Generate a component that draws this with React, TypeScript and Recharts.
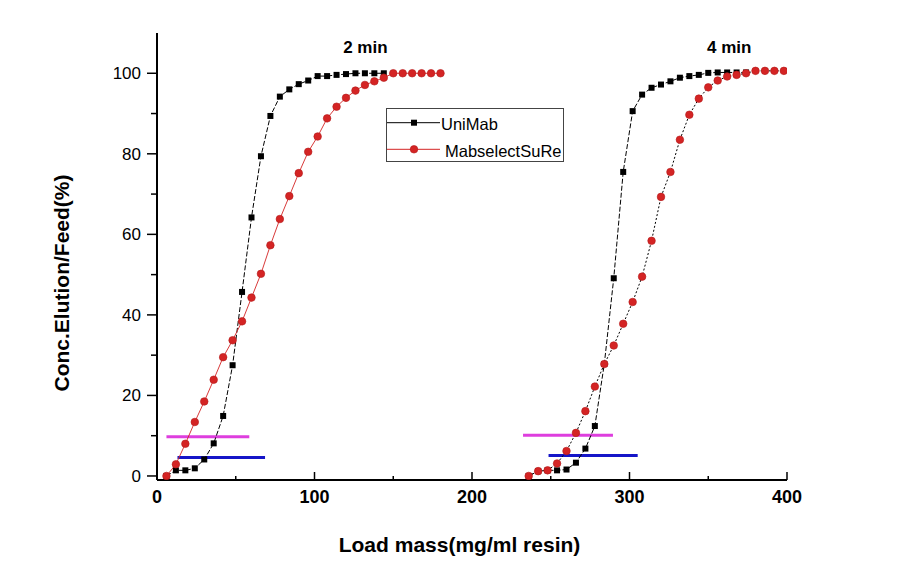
import { Line, LineChart, ReferenceDot, XAxis, YAxis } from "recharts";

// breakthrough curves, 2 min residence time
const uniMab2Load = [6, 12, 18, 24, 30, 36, 42, 48, 54, 60, 66, 72, 78, 84, 90, 96, 102, 108, 114, 120, 126, 132, 138, 144];
const uniMab2Conc = [0, 1.4, 1.4, 1.9, 4.1, 8.1, 14.9, 27.5, 45.7, 64.2, 79.4, 89.4, 94.2, 96.0, 97.3, 98.2, 99.3, 99.3, 99.6, 99.8, 100, 100, 100, 100];

const mabSelect2Load = [6, 12, 18, 24, 30, 36, 42, 48, 54, 60, 66, 72, 78, 84, 90, 96, 102, 108, 114, 120, 126, 132, 138, 144, 150, 156, 162, 168, 174, 180];
const mabSelect2Conc = [0, 2.9, 8.0, 13.4, 18.5, 23.9, 29.5, 33.7, 38.4, 44.3, 50.2, 57.3, 63.8, 69.5, 75.2, 80.5, 84.3, 88.8, 91.7, 93.9, 95.7, 97.1, 98.0, 98.9, 100, 100, 100, 100, 100, 100];

// 4 min residence time
const uniMab4Load = [236, 242, 248, 254, 260, 266, 272, 278, 284, 290, 296, 302, 308, 314, 320, 326, 332, 338, 344, 350, 356, 362, 368, 374];
const uniMab4Conc = [0, 1.2, 1.4, 1.4, 1.6, 3.3, 6.8, 12.4, 27.8, 49.1, 75.5, 90.6, 94.7, 96.4, 97.2, 98.0, 98.9, 99.3, 99.6, 100.1, 100.2, 100.2, 100.2, 100.2];

const mabSelect4Load = [236, 242, 248, 254, 260, 266, 272, 278, 284, 290, 296, 302, 308, 314, 320, 326, 332, 338, 344, 350, 356, 362, 368, 374, 380, 386, 392, 398];
const mabSelect4Conc = [0, 1.2, 1.4, 3.1, 6.2, 10.7, 16.1, 22.2, 27.8, 32.4, 37.8, 43.2, 49.5, 58.4, 69.3, 75.5, 83.5, 89.7, 93.7, 96.5, 98.2, 99.2, 99.6, 100, 100.6, 100.6, 100.6, 100.6];

// 10% and 5% breakthrough markers: [start, end] load and level
const pink2Range = [6, 58.6];
const pink2Level = 9.75;
const blue2Range = [13, 68.6];
const blue2Level = 4.6;
const pink4Range = [232.4, 289.5];
const pink4Level = 10.1;
const blue4Range = [248.6, 305.2];
const blue4Level = 5.1;

const xTicks = [0, 50, 100, 150, 200, 250, 300, 350, 400];
const yTicks = [0, 10, 20, 30, 40, 50, 60, 70, 80, 90, 100];

const annotations = [
  { label: "2 min", load: 132.3, conc: 105 },
  { label: "4 min", load: 363.3, conc: 105 },
];

const FONT = "Arial, 'Liberation Sans', sans-serif";
const RED = "#d42424";

const toPoints = (xs: number[], ys: number[]) => xs.map((x, i) => ({ x, y: ys[i] }));
const toBar = (range: number[], level: number) => range.map((x) => ({ x, y: level }));

const SquareDot = (props: any) => {
  const { cx, cy, index } = props;
  if (cx == null || cy == null) return <g key={index} />;
  return <rect key={index} x={cx - 3} y={cy - 3} width={6} height={6} fill="#000" />;
};

const RedDot = (props: any) => {
  const { cx, cy, index } = props;
  if (cx == null || cy == null) return <g key={index} />;
  return <circle key={index} cx={cx} cy={cy} r={3.8} fill={RED} stroke="#b31a1a" strokeWidth={0.6} />;
};

const YTick = (props: any) => {
  const { x, y, payload } = props;
  const major = payload.value % 20 === 0;
  return (
    <g>
      <line x1={x} x2={x - (major ? 10 : 6)} y1={y} y2={y} stroke="#000" strokeWidth={1.5} />
      {major && (
        <text x={x - 16} y={y + 6} textAnchor="end" fontSize={17} fontFamily={FONT} fill="#000">
          {payload.value}
        </text>
      )}
    </g>
  );
};

const XTick = (props: any) => {
  const { x, y, payload } = props;
  const major = payload.value % 100 === 0;
  return (
    <g>
      <line x1={x} x2={x} y1={y} y2={y - (major ? 8 : 4)} stroke="#000" strokeWidth={1.5} />
      {major && (
        <text x={x} y={y + 23} textAnchor="middle" fontSize={18} fontWeight="bold" fontFamily={FONT} fill="#000">
          {payload.value}
        </text>
      )}
    </g>
  );
};

function App() {
  const width = 895;
  const height = 569;

  return (
    <div style={{ position: "relative", width, height, background: "#fff" }}>
      <LineChart width={width} height={height} margin={{ top: 25, right: 116, bottom: 67, left: 89 }}>
        <XAxis
          dataKey="x"
          type="number"
          domain={[0, 400]}
          ticks={xTicks}
          interval={0}
          allowDataOverflow
          tickSize={0}
          tickMargin={0}
          tickLine={false}
          tick={<XTick />}
          height={30}
          axisLine={{ stroke: "#000", strokeWidth: 2 }}
        />
        <XAxis
          xAxisId="top"
          orientation="top"
          type="number"
          domain={[0, 400]}
          height={0}
          tick={false}
          tickLine={false}
          axisLine={{ stroke: "#000", strokeWidth: 2 }}
        />
        <YAxis
          dataKey="y"
          type="number"
          domain={[-1, 110]}
          ticks={yTicks}
          interval={0}
          allowDataOverflow
          tickSize={0}
          tickMargin={0}
          tickLine={false}
          tick={<YTick />}
          width={60}
          axisLine={{ stroke: "#000", strokeWidth: 2 }}
        />
        <YAxis
          yAxisId="right"
          orientation="right"
          type="number"
          domain={[-1, 110]}
          width={0}
          tick={false}
          tickLine={false}
          axisLine={{ stroke: "#000", strokeWidth: 2 }}
        />

        {[
          { key: "p2", data: toBar(pink2Range, pink2Level), color: "#de3ede" },
          { key: "b2", data: toBar(blue2Range, blue2Level), color: "#1515c8" },
          { key: "p4", data: toBar(pink4Range, pink4Level), color: "#de3ede" },
          { key: "b4", data: toBar(blue4Range, blue4Level), color: "#1515c8" },
        ].map((b) => (
          <Line
            key={b.key}
            data={b.data}
            dataKey="y"
            type="linear"
            stroke={b.color}
            strokeWidth={3}
            dot={false}
            activeDot={false}
            isAnimationActive={false}
          />
        ))}

        <Line
          data={toPoints(uniMab2Load, uniMab2Conc)}
          dataKey="y"
          type="linear"
          stroke="#000"
          strokeWidth={1}
          strokeDasharray="5 2"
          dot={<SquareDot />}
          activeDot={false}
          isAnimationActive={false}
        />
        <Line
          data={toPoints(mabSelect2Load, mabSelect2Conc)}
          dataKey="y"
          type="linear"
          stroke={RED}
          strokeWidth={0.9}
          dot={<RedDot />}
          activeDot={false}
          isAnimationActive={false}
        />
        <Line
          data={toPoints(uniMab4Load, uniMab4Conc)}
          dataKey="y"
          type="linear"
          stroke="#000"
          strokeWidth={1}
          strokeDasharray="5 2"
          dot={<SquareDot />}
          activeDot={false}
          isAnimationActive={false}
        />
        <Line
          data={toPoints(mabSelect4Load, mabSelect4Conc)}
          dataKey="y"
          type="linear"
          stroke="#000"
          strokeWidth={1}
          strokeDasharray="2 2"
          dot={<RedDot />}
          activeDot={false}
          isAnimationActive={false}
        />

        {annotations.map((a) => (
          <ReferenceDot
            key={a.label}
            x={a.load}
            y={a.conc}
            r={0}
            shape={(p: any) => (
              <text x={p.cx} y={p.cy} textAnchor="middle" fontSize={17} fontWeight="bold" fontFamily={FONT} fill="#000">
                {a.label}
              </text>
            )}
          />
        ))}
      </LineChart>

      <svg width={width} height={height} style={{ position: "absolute", left: 0, top: 0, pointerEvents: "none" }}>
        {/* legend */}
        <rect x={378.5} y={100.5} width={177} height={53} fill="#fff" stroke="#444" strokeWidth={1} />
        <line x1={379} x2={432} y1={114.7} y2={114.7} stroke="#000" strokeWidth={1} />
        <rect x={403} y={111.7} width={6} height={6} fill="#000" />
        <text x={433} y={122} fontSize={16.5} fontFamily={FONT} fill="#000">UniMab</text>
        <line x1={379} x2={432} y1={141.3} y2={141.3} stroke={RED} strokeWidth={1} />
        <circle cx={406} cy={141.3} r={3.8} fill={RED} stroke="#b31a1a" strokeWidth={0.6} />
        <text x={437} y={148.7} fontSize={16.5} fontFamily={FONT} fill="#000">MabselectSuRe</text>

        {/* axis titles */}
        <text
          x={53}
          y={275}
          transform="rotate(-90 53 275)"
          textAnchor="middle"
          dominantBaseline="central"
          fontSize={21}
          fontWeight="bold"
          fontFamily={FONT}
          fill="#000"
        >
          Conc.Elution/Feed(%)
        </text>
        <text x={451.5} y={544} textAnchor="middle" fontSize={21} fontWeight="bold" fontFamily={FONT} fill="#000">
          Load mass(mg/ml resin)
        </text>
      </svg>
    </div>
  );
}

export default App;
